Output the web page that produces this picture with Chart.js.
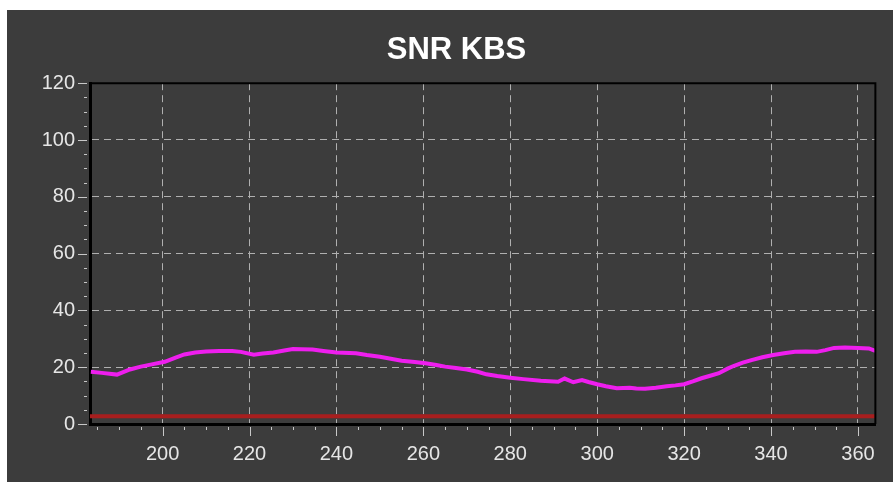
<!DOCTYPE html>
<html>
<head>
<meta charset="utf-8">
<script src="https://cdn.jsdelivr.net/npm/chart.js@4.4.1/dist/chart.umd.min.js"></script>
<style>
    html, body { margin: 0; padding: 0; background: #ffffff; }
    #panel {
        position: absolute;
        left: 7px;
        top: 10px;
        width: 886px;
        height: 472px;
        background: #3c3c3c;
    }
</style>
</head>
<body>
<div id="panel"><canvas id="snr-chart"></canvas></div>
<script>
    // 數據
    var xValues = [183.5, 186, 189.5, 192.5, 195, 197.5, 200.5, 203, 205, 207.5, 210, 213, 216, 218, 221, 223, 225.5, 228,
        230, 232, 234.5, 237, 240, 244.5, 247, 250, 252.5, 255, 258, 260.5, 263, 265, 267.5, 270, 272.5, 274.5,
        277, 280, 283, 287, 291, 292.5, 294.5, 296.5, 298, 300, 302, 304.5, 307.5, 309, 311, 313.5, 316, 318,
        320, 322, 324, 326, 328, 330, 331.5, 333.5, 335.5, 338, 340.5, 343, 345.5, 348, 350.5, 352.5, 354.5,
        357, 360, 362.5, 364];
    var snrValues = [18.4, 18.0, 17.4, 19.2, 20.2, 21.0, 21.9, 23.4, 24.5, 25.2, 25.5, 25.7, 25.7, 25.4, 24.4, 24.8, 25.2, 25.9,
        26.4, 26.3, 26.2, 25.7, 25.2, 24.9, 24.3, 23.7, 23.0, 22.3, 21.8, 21.4, 20.8, 20.2, 19.7, 19.2, 18.4, 17.5,
        16.9, 16.3, 15.8, 15.2, 14.9, 16.0, 14.7, 15.5, 14.8, 14.0, 13.3, 12.6, 12.8, 12.5, 12.4, 12.8, 13.3, 13.6,
        14.0, 15.0, 16.1, 17.0, 17.9, 19.5, 20.5, 21.6, 22.5, 23.5, 24.3, 24.9, 25.4, 25.5, 25.4, 26.0, 26.8,
        26.9, 26.8, 26.6, 25.7];
    var thresholdX = [183, 364];
    var thresholdValues = [2.7, 2.7];
    var xRange = [183.3, 364];
    var yRange = [0, 120];
    var majorStep = 20;
    var minorStep = 5;

    var gridColor = '#b0b0b0';
    var labelColor = '#e6e6e6';
    var fontFamily = 'Arial, "Liberation Sans", sans-serif';

    function toPoints(xs, ys) {
        return xs.map(function(x, i) { return {x: x, y: ys[i]}; });
    }

    function isMajor(v) {
        return Math.abs(v % majorStep) < 1e-6;
    }

    // 繪製邊框和刻度
    var frameTicks = {
        id: 'frameTicks',
        afterDatasetsDraw: function(chart) {
            var ctx = chart.ctx;
            var a = chart.chartArea;
            var xs = chart.scales.x;
            var ys = chart.scales.y;
            ctx.save();
            ctx.strokeStyle = '#000000';
            ctx.lineWidth = 2;
            ctx.beginPath();
            ctx.moveTo(a.left, a.top);
            ctx.lineTo(a.right, a.top);
            ctx.lineTo(a.right, a.bottom);
            ctx.stroke();

            ctx.strokeStyle = '#c8c8c8';
            ctx.lineWidth = 1;
            xs.ticks.forEach(function(t) {
                var px = Math.round(xs.getPixelForValue(t.value)) + 0.5;
                var len = isMajor(t.value) ? 9 : 3;
                ctx.beginPath();
                ctx.moveTo(px, a.bottom + 3);
                ctx.lineTo(px, a.bottom + 3 + len);
                ctx.stroke();
            });
            ys.ticks.forEach(function(t) {
                var py = Math.round(ys.getPixelForValue(t.value)) + 0.5;
                var len = isMajor(t.value) ? 9 : 3;
                ctx.beginPath();
                ctx.moveTo(a.left - 3, py);
                ctx.lineTo(a.left - 3 - len, py);
                ctx.stroke();
            });
            ctx.restore();
        }
    };

    var ctx = document.getElementById('snr-chart').getContext('2d');
    new Chart(ctx, {
        type: 'line',
        data: {
            datasets: [
                {
                    label: 'SNR',
                    data: toPoints(xValues, snrValues),
                    borderColor: '#ee1eee',
                    borderWidth: 4,
                    pointRadius: 0,
                    tension: 0,
                    order: 1
                },
                {
                    label: 'Threshold',
                    data: toPoints(thresholdX, thresholdValues),
                    borderColor: '#a81e1e',
                    borderWidth: 4,
                    pointRadius: 0,
                    order: 2
                }
            ]
        },
        options: {
            responsive: true,
            maintainAspectRatio: false,
            animation: false,
            layout: {
                padding: { top: 0, right: 15, bottom: 0, left: 28 }
            },
            plugins: {
                legend: { display: false },
                tooltip: { enabled: false },
                title: {
                    display: true,
                    text: 'SNR KBS',
                    color: '#ffffff',
                    font: { family: fontFamily, size: 31, weight: 'bold' },
                    padding: { top: 22, bottom: 14 }
                }
            },
            scales: {
                x: {
                    type: 'linear',
                    min: xRange[0],
                    max: xRange[1],
                    afterFit: function(scale) { scale.height = 58; },
                    ticks: {
                        stepSize: minorStep,
                        includeBounds: false,
                        autoSkip: false,
                        maxRotation: 0,
                        padding: 18,
                        color: labelColor,
                        font: { family: fontFamily, size: 20 },
                        callback: function(v) { return isMajor(v) ? String(v) : ''; }
                    },
                    grid: {
                        drawTicks: false,
                        lineWidth: 1,
                        color: function(c) {
                            return c.tick && isMajor(c.tick.value) ? gridColor : 'rgba(0,0,0,0)';
                        }
                    },
                    border: { display: true, color: '#000000', width: 3, dash: [7, 5] }
                },
                y: {
                    type: 'linear',
                    min: yRange[0],
                    max: yRange[1],
                    afterFit: function(scale) { scale.width = 55; },
                    ticks: {
                        stepSize: minorStep,
                        autoSkip: false,
                        padding: 15,
                        color: labelColor,
                        font: { family: fontFamily, size: 20 },
                        callback: function(v) { return isMajor(v) ? String(v) : ''; }
                    },
                    grid: {
                        drawTicks: false,
                        lineWidth: 1,
                        color: function(c) {
                            return c.tick && isMajor(c.tick.value) && c.tick.value > 0 ? gridColor : 'rgba(0,0,0,0)';
                        }
                    },
                    border: { display: true, color: '#000000', width: 3, dash: [7, 5] }
                }
            }
        },
        plugins: [frameTicks]
    });
</script>
</body>
</html>
